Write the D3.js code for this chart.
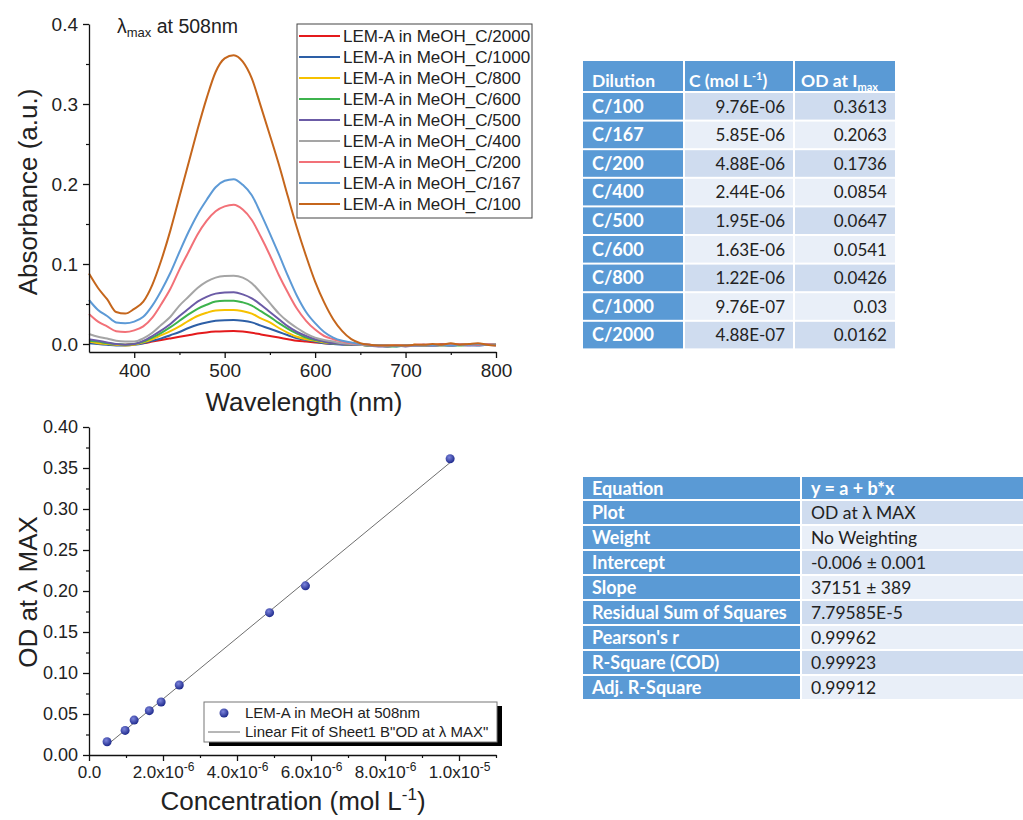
<!DOCTYPE html>
<html><head><meta charset="utf-8">
<script src="https://cdn.jsdelivr.net/npm/d3@7/dist/d3.min.js"></script>
<style>body{margin:0;background:#fff}svg{display:block}</style>
</head><body>
<svg id="c" width="1023" height="820"></svg>
<script>
// ---------- DATA ----------
const wavelength = [350,360,370,380,390,400,410,420,430,440,450,460,470,480,490,500,510,520,530,540,550,560,570,580,590,600,610,620,630,640,650,660,670,680,690,700,710,720,730,740,750,760,770,780,790,800];

const seriesNames = ["LEM-A in MeOH_C/2000","LEM-A in MeOH_C/1000","LEM-A in MeOH_C/800","LEM-A in MeOH_C/600","LEM-A in MeOH_C/500","LEM-A in MeOH_C/400","LEM-A in MeOH_C/200","LEM-A in MeOH_C/167","LEM-A in MeOH_C/100"];

const absC2000 = [0.002,0.001,0.000,-0.001,-0.001,0.000,0.001,0.003,0.005,0.007,0.009,0.011,0.013,0.0145,0.0155,0.016,0.0162,0.0155,0.014,0.012,0.010,0.008,0.006,0.004,0.003,0.002,0.001,0.000,0.000,-0.001,-0.001,-0.001,-0.002,-0.002,-0.002,-0.002,-0.001,-0.001,-0.001,0.000,-0.001,0.000,-0.001,0.000,-0.001,-0.001];
const absC1000 = [0.001,0.000,-0.001,-0.002,-0.002,-0.001,0.001,0.004,0.007,0.011,0.015,0.020,0.024,0.027,0.029,0.0298,0.030,0.029,0.027,0.023,0.019,0.015,0.011,0.007,0.005,0.003,0.001,0.000,-0.001,-0.001,-0.001,-0.002,-0.002,-0.003,-0.002,-0.002,-0.002,-0.002,-0.002,-0.001,-0.002,-0.001,-0.001,-0.002,-0.001,-0.001];
const absC800 = [0.003,0.001,0.000,-0.001,-0.002,-0.001,0.002,0.006,0.011,0.016,0.022,0.029,0.035,0.039,0.042,0.0425,0.0426,0.041,0.038,0.032,0.027,0.020,0.014,0.009,0.006,0.004,0.002,0.001,0.000,-0.001,-0.001,-0.002,-0.002,-0.002,-0.002,-0.002,-0.001,-0.002,-0.001,-0.001,-0.002,-0.001,0.000,-0.001,-0.001,-0.001];
const absC600 = [0.004,0.003,0.001,0.000,-0.001,0.000,0.003,0.008,0.014,0.021,0.029,0.037,0.044,0.049,0.053,0.054,0.0541,0.052,0.048,0.041,0.034,0.026,0.019,0.013,0.008,0.005,0.003,0.001,0.000,-0.001,-0.001,-0.002,-0.002,-0.003,-0.003,-0.002,-0.002,-0.002,-0.002,-0.002,-0.001,-0.002,-0.001,-0.001,-0.001,-0.001];
const absC500 = [0.006,0.004,0.002,0.000,-0.001,0.000,0.004,0.010,0.017,0.025,0.035,0.044,0.053,0.059,0.063,0.0645,0.0647,0.062,0.057,0.049,0.040,0.031,0.022,0.015,0.010,0.006,0.003,0.001,0.000,-0.001,-0.001,-0.002,-0.003,-0.003,-0.002,-0.003,-0.002,-0.002,-0.002,-0.001,-0.002,-0.001,-0.002,-0.001,-0.001,-0.002];
const absC400 = [0.0125,0.009,0.007,0.004,0.003,0.003,0.007,0.014,0.024,0.034,0.048,0.059,0.070,0.078,0.083,0.085,0.0854,0.083,0.076,0.064,0.051,0.038,0.028,0.020,0.013,0.008,0.005,0.003,0.001,0.000,-0.001,-0.002,-0.002,-0.003,-0.002,-0.002,-0.002,-0.002,-0.001,-0.002,-0.001,-0.001,-0.001,0.000,-0.001,-0.001];
const absC200 = [0.0375,0.028,0.022,0.016,0.015,0.017,0.022,0.033,0.050,0.069,0.093,0.115,0.137,0.154,0.166,0.172,0.174,0.168,0.155,0.134,0.111,0.086,0.064,0.044,0.029,0.018,0.010,0.006,0.003,0.001,0.000,-0.001,-0.002,-0.002,-0.002,-0.002,-0.002,-0.001,-0.002,-0.001,-0.001,0.000,-0.001,-0.001,0.000,-0.001];
const absC167 = [0.055,0.0425,0.035,0.027,0.026,0.028,0.034,0.048,0.067,0.089,0.115,0.140,0.162,0.180,0.196,0.204,0.206,0.199,0.186,0.163,0.138,0.112,0.085,0.060,0.040,0.026,0.015,0.008,0.004,0.002,0.000,-0.001,-0.002,-0.002,-0.003,-0.002,-0.002,-0.001,-0.002,-0.001,-0.002,-0.001,-0.001,0.000,-0.001,-0.001];
const absC100 = [0.088,0.070,0.056,0.040,0.038,0.044,0.053,0.074,0.105,0.142,0.184,0.226,0.268,0.307,0.340,0.357,0.361,0.353,0.332,0.297,0.261,0.224,0.184,0.145,0.110,0.078,0.052,0.031,0.016,0.006,0.001,-0.001,-0.002,-0.002,-0.002,-0.002,-0.001,-0.001,0.000,-0.001,0.001,-0.001,0.000,0.001,-0.001,-0.002];
const seriesValues = [absC2000,absC1000,absC800,absC600,absC500,absC400,absC200,absC167,absC100];
const seriesColors = ["#e41a1c","#2d5fa6","#f6c100","#3db34d","#6b5ba6","#a5a5a5","#f27178","#5d9ad6","#c5661c"];

const absTicks = [0.0,0.1,0.2,0.3,0.4];
const absMinor = [0.05,0.15,0.25,0.35];
const wlTicks = [400,500,600,700,800];
const wlMinor = [450,550,650,750];

// dilution table
const dilution = ["C/100","C/167","C/200","C/400","C/500","C/600","C/800","C/1000","C/2000"];
const concentration = [9.76e-6,5.85e-6,4.88e-6,2.44e-6,1.95e-6,1.63e-6,1.22e-6,9.76e-7,4.88e-7];
const concLabels = ["9.76E-06","5.85E-06","4.88E-06","2.44E-06","1.95E-06","1.63E-06","1.22E-06","9.76E-07","4.88E-07"];
const odMax = [0.3613,0.2063,0.1736,0.0854,0.0647,0.0541,0.0426,0.03,0.0162];
const odLabels = ["0.3613","0.2063","0.1736","0.0854","0.0647","0.0541","0.0426","0.03","0.0162"];

// fit
const fitIntercept = -0.006;
const fitSlope = 37151;
const fitLabels = ["Plot","Weight","Intercept","Slope","Residual Sum of Squares","Pearson's r","R-Square (COD)","Adj. R-Square"];
const fitValues = ["OD at \u03bb MAX","No Weighting","-0.006 \u00b1 0.001","37151 \u00b1 389","7.79585E-5","0.99962","0.99923","0.99912"];

const odTicks = [0,0.05,0.10,0.15,0.20,0.25,0.30,0.35,0.40];
const odMinor = [0.025,0.075,0.125,0.175,0.225,0.275,0.325,0.375];
const concTicks = [0,2e-6,4e-6,6e-6,8e-6,1e-5];
const concTickLabels = [["0.0",""],["2.0x10","-6"],["4.0x10","-6"],["6.0x10","-6"],["8.0x10","-6"],["1.0x10","-5"]];
const concMinor = [1e-6,3e-6,5e-6,7e-6,9e-6,1.1e-5];

// ---------- DRAW ----------
const svg = d3.select("#c");
const AX = "'Liberation Sans', Arial, sans-serif";
const TB = "Lato, 'Open Sans', sans-serif";

function styleAxis(g, fs){
  g.select(".domain").attr("stroke","#111").attr("stroke-width",1.3);
  g.selectAll(".tick line").attr("stroke","#111").attr("stroke-width",1.3);
  g.selectAll(".tick text").attr("font-family",AX).attr("font-size",fs).attr("fill","#222");
}

// ----- top spectrum chart -----
const x1 = d3.scaleLinear().domain([350,800]).range([89,496]);
const y1 = d3.scaleLinear().domain([-0.01,0.4]).range([352,24]);
const g1 = svg.append("g");

const line1 = d3.line().x((d,i)=>x1(wavelength[i])).y(d=>y1(d)).curve(d3.curveMonotoneX);
seriesValues.forEach((vals,k)=>{
  g1.append("path").attr("d",line1(vals)).attr("fill","none")
    .attr("stroke",seriesColors[k]).attr("stroke-width",2).attr("stroke-linejoin","round");
});

const yA1 = g1.append("g").attr("transform","translate(89,0)")
  .call(d3.axisLeft(y1).tickValues(absTicks).tickFormat(d3.format(".1f")).tickSize(6).tickSizeOuter(0).tickPadding(5));
styleAxis(yA1,19);
g1.append("g").attr("transform","translate(89,0)")
  .call(d3.axisLeft(y1).tickValues(absMinor).tickFormat("").tickSize(3).tickSizeOuter(0))
  .call(g=>{g.select(".domain").remove();g.selectAll("line").attr("stroke","#111").attr("stroke-width",1.2);});
const xA1 = g1.append("g").attr("transform","translate(0,352)")
  .call(d3.axisBottom(x1).tickValues(wlTicks).tickSize(6).tickSizeOuter(0).tickPadding(6));
styleAxis(xA1,19);
g1.append("g").attr("transform","translate(0,352)")
  .call(d3.axisBottom(x1).tickValues(wlMinor).tickFormat("").tickSize(3).tickSizeOuter(0))
  .call(g=>{g.select(".domain").remove();g.selectAll("line").attr("stroke","#111").attr("stroke-width",1.2);});

g1.append("text").attr("transform","translate(37,192) rotate(-90)").attr("text-anchor","middle")
  .attr("font-family",AX).attr("font-size",26).attr("fill","#222").text("Absorbance (a.u.)");
g1.append("text").attr("x",304).attr("y",411).attr("text-anchor","middle")
  .attr("font-family",AX).attr("font-size",26).attr("fill","#222").text("Wavelength (nm)");
const lt = g1.append("text").attr("x",117).attr("y",33).attr("font-family",AX).attr("font-size",19.5).attr("fill","#222");
lt.append("tspan").text("\u03bb");
lt.append("tspan").attr("font-size",13).attr("dy",4).text("max");
lt.append("tspan").attr("dy",-4).text(" at 508nm");

// legend
const lg = g1.append("g");
lg.append("rect").attr("x",297).attr("y",24).attr("width",235).attr("height",194)
  .attr("fill","#fff").attr("stroke","#444").attr("stroke-width",1);
seriesNames.forEach((n,k)=>{
  const yy = 36 + k*21;
  lg.append("line").attr("x1",299).attr("x2",340).attr("y1",yy).attr("y2",yy)
    .attr("stroke",seriesColors[k]).attr("stroke-width",2.2);
  lg.append("text").attr("x",343).attr("y",yy+6).attr("font-family",AX).attr("font-size",17)
    .attr("fill","#222").text(n);
});

// ----- bottom calibration chart -----
const x2 = d3.scaleLinear().domain([0,1.1e-5]).range([89,496]);
const y2 = d3.scaleLinear().domain([0,0.4]).range([755,427]);
const g2 = svg.append("g");

const yA2 = g2.append("g").attr("transform","translate(89,0)")
  .call(d3.axisLeft(y2).tickValues(odTicks).tickFormat(d3.format(".2f")).tickSize(6).tickSizeOuter(0).tickPadding(5));
styleAxis(yA2,18);
g2.append("g").attr("transform","translate(89,0)")
  .call(d3.axisLeft(y2).tickValues(odMinor).tickFormat("").tickSize(3).tickSizeOuter(0))
  .call(g=>{g.select(".domain").remove();g.selectAll("line").attr("stroke","#111").attr("stroke-width",1.2);});
const xA2 = g2.append("g").attr("transform","translate(0,755)")
  .call(d3.axisBottom(x2).tickValues(concTicks).tickSize(6).tickSizeOuter(0).tickPadding(5));
styleAxis(xA2,17);
xA2.selectAll(".tick text").each(function(d,i){
  const t = d3.select(this); t.text("");
  t.append("tspan").text(concTickLabels[i][0]);
  if(concTickLabels[i][1]) t.append("tspan").attr("font-size",12).attr("dy",-7).text(concTickLabels[i][1]);
});
g2.append("g").attr("transform","translate(0,755)")
  .call(d3.axisBottom(x2).tickValues(concMinor).tickFormat("").tickSize(3).tickSizeOuter(0))
  .call(g=>{g.select(".domain").remove();g.selectAll("line").attr("stroke","#111").attr("stroke-width",1.2);});

// fit line
const cExt = d3.extent(concentration);
g2.append("line").attr("x1",x2(cExt[0])).attr("y1",y2(fitIntercept+fitSlope*cExt[0]))
  .attr("x2",x2(cExt[1])).attr("y2",y2(fitIntercept+fitSlope*cExt[1]))
  .attr("stroke","#6e6e6e").attr("stroke-width",1);

const defs = svg.append("defs");
const rg = defs.append("radialGradient").attr("id","ball").attr("cx","40%").attr("cy","35%").attr("r","65%");
rg.append("stop").attr("offset","0%").attr("stop-color","#7c84dc");
rg.append("stop").attr("offset","100%").attr("stop-color","#1e2a8c");

g2.selectAll("circle.pt").data(concentration).enter().append("circle").attr("class","pt")
  .attr("cx",d=>x2(d)).attr("cy",(d,i)=>y2(odMax[i])).attr("r",4.5).attr("fill","url(#ball)");

g2.append("text").attr("transform","translate(37,592) rotate(-90)").attr("text-anchor","middle")
  .attr("font-family",AX).attr("font-size",26).attr("fill","#222").text("OD at \u03bb MAX");
const xl2 = g2.append("text").attr("x",293).attr("y",810).attr("text-anchor","middle")
  .attr("font-family",AX).attr("font-size",26).attr("fill","#222");
xl2.append("tspan").text("Concentration (mol L");
xl2.append("tspan").attr("font-size",17).attr("dy",-10).text("-1");
xl2.append("tspan").attr("dy",10).text(")");

// bottom legend
const lg2 = g2.append("g");
lg2.append("rect").attr("x",209).attr("y",706).attr("width",293).attr("height",40).attr("fill","#000");
lg2.append("rect").attr("x",204).attr("y",702).attr("width",293).attr("height",40).attr("fill","#fff")
  .attr("stroke","#777").attr("stroke-width",1);
lg2.append("circle").attr("cx",224).attr("cy",713).attr("r",4.5).attr("fill","url(#ball)");
lg2.append("text").attr("x",245).attr("y",718).attr("font-family",AX).attr("font-size",15).attr("fill","#222")
  .text("LEM-A in MeOH at 508nm");
lg2.append("line").attr("x1",208).attr("x2",240).attr("y1",732).attr("y2",732).attr("stroke","#6e6e6e").attr("stroke-width",1);
lg2.append("text").attr("x",245).attr("y",737).attr("font-family",AX).attr("font-size",15).attr("fill","#222")
  .text("Linear Fit of Sheet1 B\"OD at \u03bb MAX\"");

// ----- top-right table -----
const HEAD = "#5a9ad5", DARK = "#cfdcef", LIGHT = "#e9eff8";
const t1 = svg.append("g");
const cX = [583,685,795], cW = [100,108,100];
cX.forEach((cx,j)=>t1.append("rect").attr("x",cx).attr("y",61).attr("width",cW[j]).attr("height",30).attr("fill",HEAD));
t1.append("text").attr("x",592).attr("y",87).attr("font-family",TB).attr("font-weight","bold").attr("font-size",17.5).attr("fill","#fff").text("Dilution");
const h2 = t1.append("text").attr("x",689).attr("y",87).attr("font-family",TB).attr("font-weight","bold").attr("font-size",17.5).attr("fill","#fff");
h2.append("tspan").text("C (mol L");
h2.append("tspan").attr("font-size",11).attr("dy",-7).text("-1");
h2.append("tspan").attr("dy",7).text(")");
const h3 = t1.append("text").attr("x",801).attr("y",87).attr("font-family",TB).attr("font-weight","bold").attr("font-size",17.5).attr("fill","#fff");
h3.append("tspan").text("OD at I");
h3.append("tspan").attr("font-size",11).attr("dy",4).text("max");

dilution.forEach((d,i)=>{
  const ry = 93 + i*28.6;
  const fill = i%2===0 ? DARK : LIGHT;
  t1.append("rect").attr("x",cX[0]).attr("y",ry).attr("width",cW[0]).attr("height",26.6).attr("fill",HEAD);
  t1.append("rect").attr("x",cX[1]).attr("y",ry).attr("width",cW[1]).attr("height",26.6).attr("fill",fill);
  t1.append("rect").attr("x",cX[2]).attr("y",ry).attr("width",cW[2]).attr("height",26.6).attr("fill",fill);
  t1.append("text").attr("x",592).attr("y",ry+19.5).attr("font-family",TB).attr("font-weight","bold").attr("font-size",18).attr("fill","#fff").text(d);
  t1.append("text").attr("x",785).attr("y",ry+19.5).attr("text-anchor","end").attr("font-family",TB).attr("font-size",17).attr("fill","#222").text(concLabels[i]);
  t1.append("text").attr("x",887).attr("y",ry+19.5).attr("text-anchor","end").attr("font-family",TB).attr("font-size",17).attr("fill","#222").text(odLabels[i]);
});

// ----- bottom-right fit table -----
const t2 = svg.append("g");
t2.append("rect").attr("x",583).attr("y",477).attr("width",217).attr("height",22).attr("fill",HEAD);
t2.append("rect").attr("x",802).attr("y",477).attr("width",230).attr("height",22).attr("fill",HEAD);
t2.append("text").attr("x",592).attr("y",495).attr("font-family",TB).attr("font-weight","bold").attr("font-size",18).attr("fill","#fff").text("Equation");
t2.append("text").attr("x",811).attr("y",495).attr("font-family",TB).attr("font-weight","bold").attr("font-size",18).attr("fill","#fff").text("y = a + b*x");
fitLabels.forEach((lab,i)=>{
  const ry = 501 + i*25;
  t2.append("rect").attr("x",583).attr("y",ry).attr("width",217).attr("height",23).attr("fill",HEAD);
  t2.append("rect").attr("x",802).attr("y",ry).attr("width",230).attr("height",23).attr("fill",i%2===0?DARK:LIGHT);
  t2.append("text").attr("x",592).attr("y",ry+18).attr("font-family",TB).attr("font-weight","bold").attr("font-size",18).attr("fill","#fff").text(lab);
  t2.append("text").attr("x",811).attr("y",ry+18).attr("font-family",TB).attr("font-size",17.5).attr("fill","#222").text(fitValues[i]);
});
</script>
</body></html>
